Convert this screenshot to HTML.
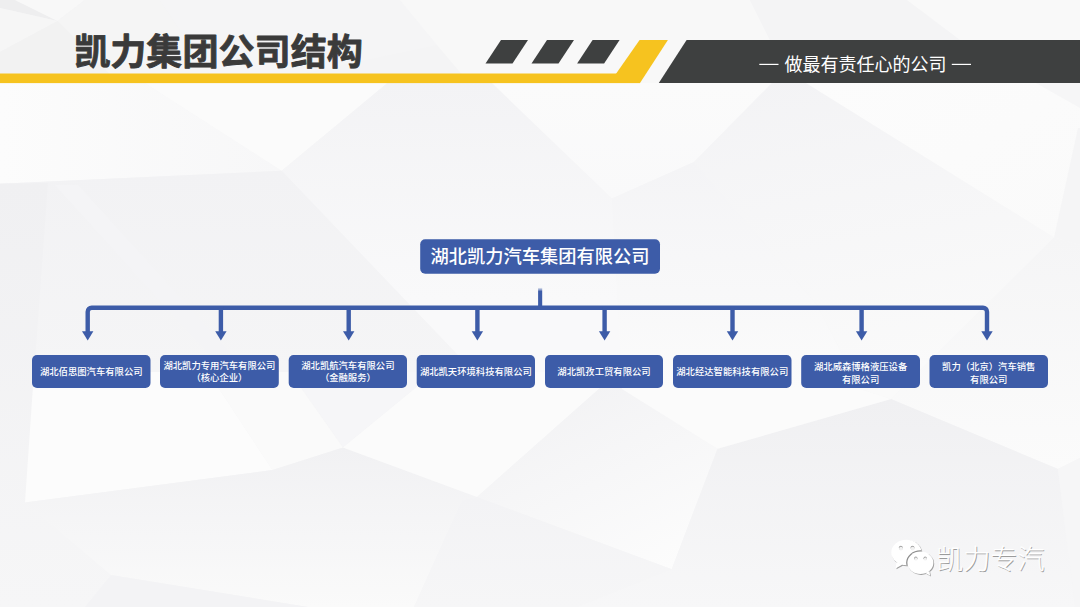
<!DOCTYPE html>
<html lang="zh"><head><meta charset="utf-8"><title>凯力集团公司结构</title>
<style>
html,body{margin:0;padding:0;background:#f3f3f4;}
body{width:1080px;height:607px;overflow:hidden;position:relative;font-family:"Liberation Sans",sans-serif;}
svg{position:absolute;left:0;top:0;display:block;}
svg text{font-family:"Liberation Sans","Noto Sans CJK SC",sans-serif;}
.t{position:absolute;color:transparent;white-space:nowrap;overflow:hidden;margin:0;}
</style></head><body>
<svg width="1080" height="607" viewBox="0 0 1080 607">
<rect width="1080" height="607" fill="#f5f5f6"/>
<polygon points="0,0 1080,0 1080,84 0,84" fill="#f4f4f5"/>
<polygon points="0,0 15,0 57.5,21 0,8" fill="#eeeeef"/>
<polygon points="15,0 85,0 57.5,21" fill="#f8f8f8"/>
<polygon points="0,8 57.5,21 0,52" fill="#f6f6f6"/>
<polygon points="0,52 57.5,21 110,74 0,74" fill="#f2f2f2"/>
<polygon points="57.5,21 85,0 160,0 210,74 110,74" fill="#f5f5f5"/>
<polygon points="160,0 400,0 437,45 300,74 210,74" fill="#f5f5f6"/>
<polygon points="400,0 750,0 770,40 660,84 470,84 437,45" fill="#f8f8f8"/>
<polygon points="750,0 907,0 960,40 770,40" fill="#f4f4f5"/>
<polygon points="907,0 1080,0 1080,40 960,40" fill="#f9f9f9"/>
<linearGradient id="b1" x1="0" y1="0" x2="1" y2="0"><stop offset="0" stop-color="#fcfcfc"/><stop offset="1" stop-color="#f7f7f8"/></linearGradient>
<polygon points="0,83 144.6,83 281.7,170.8 0,183.8" fill="url(#b1)"/>
<polygon points="144.6,83 387.4,83 281.7,170.8" fill="#fbfbfb"/>
<linearGradient id="b2" x1="0" y1="0" x2="0" y2="0.75"><stop offset="0" stop-color="#f3f3f5"/><stop offset="1" stop-color="#f9f9fa"/></linearGradient>
<polygon points="387.4,83 492,83 612,198.5 622,372 474,372 281.7,170.8" fill="url(#b2)"/>
<linearGradient id="b3" x1="0" y1="0" x2="0" y2="1"><stop offset="0" stop-color="#fbfbfb"/><stop offset="1" stop-color="#f9f9fa"/></linearGradient>
<polygon points="492,83 772,83 694,162 612,198.5" fill="url(#b3)"/>
<linearGradient id="b4" x1="0" y1="0" x2="0.2" y2="1"><stop offset="0" stop-color="#f3f3f5"/><stop offset="1" stop-color="#fafafa"/></linearGradient>
<polygon points="772,83 806,83 1054,237.5 891,399 860,389 817,305 694,162" fill="url(#b4)"/>
<linearGradient id="b5" x1="0" y1="0" x2="1" y2="1"><stop offset="0" stop-color="#fcfcfc"/><stop offset="1" stop-color="#fafafa"/></linearGradient>
<polygon points="806,83 1080,83 1080,245 1054,237.5" fill="url(#b5)"/>
<polygon points="1036,83 1080,83 1080,108" fill="#f6f6f7"/>
<polygon points="1078,128 1080,128 1080,245 1054,237.5" fill="#f5f5f6"/>
<linearGradient id="b6" x1="0" y1="0" x2="0" y2="1"><stop offset="0" stop-color="#f4f4f6"/><stop offset="1" stop-color="#fbfbfb"/></linearGradient>
<polygon points="612,198.5 694,162 817,305 860,389 622,389" fill="url(#b6)"/>
<linearGradient id="b7" x1="0" y1="0" x2="0" y2="1"><stop offset="0" stop-color="#f2f2f4"/><stop offset="1" stop-color="#f5f5f6"/></linearGradient>
<polygon points="0,183.8 281.7,170.8 474,372 33,372" fill="url(#b7)"/>
<linearGradient id="b8" x1="0" y1="0" x2="0" y2="1"><stop offset="0" stop-color="#f0f0f2"/><stop offset="1" stop-color="#f6f6f7"/></linearGradient>
<polygon points="0,183.8 48,183 33,389 25,502.5 111,575 85,607 0,607" fill="url(#b8)"/>
<polygon points="55,185 78,185 263,389 240,389" fill="#f4f4f6"/>
<linearGradient id="b9" x1="0" y1="0" x2="0" y2="1"><stop offset="0" stop-color="#f5f5f6"/><stop offset="1" stop-color="#fbfbfb"/></linearGradient>
<polygon points="1054,237.5 1080,245 1080,458 1058,469 891,399" fill="url(#b9)"/>
<polygon points="34,372 208,372 272.5,470 25,502.5" fill="#fcfcfc"/>
<polygon points="208,372 290,372 343,447.5 272.5,470" fill="#fafafa"/>
<polygon points="290,372 435,372 343,447.5" fill="#f6f6f8"/>
<linearGradient id="b10" x1="0" y1="0" x2="0" y2="1"><stop offset="0" stop-color="#f1f1f3"/><stop offset="1" stop-color="#fafafa"/></linearGradient>
<polygon points="25,502.5 272.5,470 343,447.5 477,497 462,500 414,607 308,607 111,575" fill="url(#b10)"/>
<polygon points="111,575 308,607 85,607" fill="#f3f3f5"/>
<polygon points="435,372 618,372 477,497 343,447.5" fill="#fbfbfb"/>
<linearGradient id="b11" x1="0.2" y1="0" x2="0.8" y2="1"><stop offset="0" stop-color="#f1f1f3"/><stop offset="1" stop-color="#fcfcfc"/></linearGradient>
<polygon points="618,372 622,372 622,389 717.5,448.7 671.7,569.2 477,497" fill="url(#b11)"/>
<linearGradient id="b12" x1="0" y1="0" x2="0" y2="1"><stop offset="0" stop-color="#f3f3f5"/><stop offset="1" stop-color="#f6f6f7"/></linearGradient>
<polygon points="477,497 671.7,569.2 577,607 414,607 462,500" fill="url(#b12)"/>
<linearGradient id="b13" x1="0" y1="0" x2="0" y2="1"><stop offset="0" stop-color="#f0f0f2"/><stop offset="1" stop-color="#f7f7f8"/></linearGradient>
<polygon points="717.5,448.7 891,399 1058,469 1075,607 577,607 671.7,569.2" fill="url(#b13)"/>
<polygon points="622,389 860,389 891,399 717.5,448.7" fill="#fbfbfb"/>
<polygon points="1058,469 1080,458 1080,607 1075,607" fill="#f6f6f7"/>
<rect x="0" y="73.5" width="640" height="9.6" fill="#f6c31f"/>
<polygon points="616.2,73.5 639.6,40 667.9,40 640,83.1 610,83.1" fill="#f6c31f"/>
<polygon points="501,40 528,40 512.5,63.5 485.5,63.5" fill="#3e4040"/>
<polygon points="547,40 574,40 558.5,63.5 531.5,63.5" fill="#3e4040"/>
<polygon points="592.6,40 619.6,40 604.1,63.5 577.1,63.5" fill="#3e4040"/>
<polygon points="686.6,40 1080,40 1080,83.1 658.8,83.1" fill="#3e4040"/>
<text x="74.2" y="65.4" font-size="36.1" font-weight="bold" fill="#3a3a3a" stroke="#3a3a3a" stroke-width="0.85" stroke-linejoin="round">凯力集团公司结构</text>
<text x="784.4" y="70.6" font-size="18" fill="#ffffff">做最有责任心的公司</text>
<rect x="759.3" y="63.8" width="19.2" height="1.2" fill="#fff"/><rect x="951.8" y="63.8" width="19.2" height="1.2" fill="#fff"/>
<defs><linearGradient id="fade" x1="0" y1="0" x2="0" y2="1"><stop offset="0" stop-color="#3d5ca8" stop-opacity="0"/><stop offset="0.2" stop-color="#3d5ca8"/></linearGradient></defs>
<rect x="538.1" y="287.4" width="4.1" height="20.6" fill="url(#fade)"/>
<path d="M87.7 333 V311.7 a4 4 0 0 1 4 -4 H983.0 a4 4 0 0 1 4 4 V333" fill="none" stroke="#3d5ca8" stroke-width="4.4"/>
<rect x="218.70" y="307" width="4.4" height="26" fill="#3d5ca8"/>
<rect x="346.50" y="307" width="4.4" height="26" fill="#3d5ca8"/>
<rect x="475.20" y="307" width="4.4" height="26" fill="#3d5ca8"/>
<rect x="602.40" y="307" width="4.4" height="26" fill="#3d5ca8"/>
<rect x="730.30" y="307" width="4.4" height="26" fill="#3d5ca8"/>
<rect x="859.40" y="307" width="4.4" height="26" fill="#3d5ca8"/>
<polygon points="82.00,331.2 93.40,331.2 87.70,340.6" fill="#3d5ca8"/>
<polygon points="215.20,331.2 226.60,331.2 220.90,340.6" fill="#3d5ca8"/>
<polygon points="343.00,331.2 354.40,331.2 348.70,340.6" fill="#3d5ca8"/>
<polygon points="471.70,331.2 483.10,331.2 477.40,340.6" fill="#3d5ca8"/>
<polygon points="598.90,331.2 610.30,331.2 604.60,340.6" fill="#3d5ca8"/>
<polygon points="726.80,331.2 738.20,331.2 732.50,340.6" fill="#3d5ca8"/>
<polygon points="855.90,331.2 867.30,331.2 861.60,340.6" fill="#3d5ca8"/>
<polygon points="981.30,331.2 992.70,331.2 987.00,340.6" fill="#3d5ca8"/>
<rect x="420.2" y="239.3" width="239.8" height="34.4" rx="5" fill="#3d5ca8"/>
<text x="430.58" y="263.2" font-size="18.25" font-weight="500" fill="#ffffff">湖北凯力汽车集团有限公司</text>
<rect x="32.0" y="355" width="118.5" height="33" rx="5" fill="#3d5ca8"/>
<text x="39.95" y="375" font-size="9.33" font-weight="500" fill="#ffffff">湖北佰思图汽车有限公司</text>
<rect x="160.0" y="355" width="118.8" height="33" rx="5" fill="#3d5ca8"/>
<text x="163.44" y="369.3" font-size="9.33" font-weight="500" fill="#ffffff">湖北凯力专用汽车有限公司</text>
<text x="191.42" y="381.4" font-size="9.33" font-weight="500" fill="#ffffff">（核心企业）</text>
<rect x="288.7" y="355" width="118.3" height="33" rx="5" fill="#3d5ca8"/>
<text x="301.22" y="369.3" font-size="9.33" font-weight="500" fill="#ffffff">湖北凯航汽车有限公司</text>
<text x="319.88" y="381.4" font-size="9.33" font-weight="500" fill="#ffffff">（金融服务）</text>
<rect x="416.7" y="355" width="118.3" height="33" rx="5" fill="#3d5ca8"/>
<text x="419.88" y="375" font-size="9.33" font-weight="500" fill="#ffffff">湖北凯天环境科技有限公司</text>
<rect x="545.0" y="355" width="118.0" height="33" rx="5" fill="#3d5ca8"/>
<text x="557.37" y="375" font-size="9.33" font-weight="500" fill="#ffffff">湖北凯孜工贸有限公司</text>
<rect x="673.0" y="355" width="118.5" height="33" rx="5" fill="#3d5ca8"/>
<text x="676.28" y="375" font-size="9.33" font-weight="500" fill="#ffffff">湖北经达智能科技有限公司</text>
<rect x="801.2" y="355" width="118.8" height="33" rx="5" fill="#3d5ca8"/>
<text x="813.97" y="370.2" font-size="9.33" font-weight="500" fill="#ffffff">湖北威森博格液压设备</text>
<text x="841.96" y="382.5" font-size="9.33" font-weight="500" fill="#ffffff">有限公司</text>
<rect x="929.5" y="355" width="118.5" height="33" rx="5" fill="#3d5ca8"/>
<text x="942.12" y="370.2" font-size="9.33" font-weight="500" fill="#ffffff">凯力（北京）汽车销售</text>
<text x="970.11" y="382.5" font-size="9.33" font-weight="500" fill="#ffffff">有限公司</text>
<text x="937.05" y="569.7" font-size="27.1" font-weight="300" fill="#9c9c9c">凯力专汽</text>
<text x="936.25" y="568.9" font-size="27.1" font-weight="300" fill="#ffffff" stroke="#fff" stroke-width="0.22">凯力专汽</text>
<defs><clipPath id="cb"><ellipse cx="906.4" cy="552.5" rx="15.1" ry="12.8"/><polygon points="896.6,562 895.6,568.4 902.5,564.6"/></clipPath></defs>
<g transform="translate(0.8 0.9)" fill="#9d9d9d"><ellipse cx="906.4" cy="552.5" rx="15.1" ry="12.8"/><polygon points="896.6,562 895.6,568.4 902.5,564.6"/><ellipse cx="920.4" cy="562.8" rx="13" ry="11.2"/><polygon points="925.5,573 930.2,575.7 929.3,571"/></g>
<g fill="#fff"><ellipse cx="906.4" cy="552.5" rx="15.1" ry="12.8"/><polygon points="896.6,562 895.6,568.4 902.5,564.6"/></g>
<circle cx="900.8" cy="547.8" r="2.0" fill="#a3a3a3"/><circle cx="900.9499999999999" cy="548.55" r="1.85" fill="#f1f1f1"/><circle cx="912.5" cy="547.8" r="2.0" fill="#a3a3a3"/><circle cx="912.65" cy="548.55" r="1.85" fill="#f1f1f1"/>
<g clip-path="url(#cb)"><g fill="#8f8f8f" stroke="#8f8f8f" stroke-width="2.6"><ellipse cx="920.4" cy="562.8" rx="13" ry="11.2"/><polygon points="925.5,573 930.2,575.7 929.3,571"/></g></g>
<g fill="#fff"><ellipse cx="920.4" cy="562.8" rx="13" ry="11.2"/><polygon points="925.5,573 930.2,575.7 929.3,571"/></g>
<circle cx="915.8" cy="558.3" r="1.7" fill="#a3a3a3"/><circle cx="915.9499999999999" cy="559.05" r="1.55" fill="#f1f1f1"/><circle cx="925.2" cy="558.3" r="1.7" fill="#a3a3a3"/><circle cx="925.35" cy="559.05" r="1.55" fill="#f1f1f1"/>
</svg>
<div class="t" style="left:75.0px;top:30.0px;width:290.0px;height:42.0px;font-size:36px;line-height:42.0px;text-align:left">凯力集团公司结构</div>
<div class="t" style="left:755.0px;top:50.0px;width:220.0px;height:28.0px;font-size:18px;line-height:28.0px;text-align:center">— 做最有责任心的公司 —</div>
<div class="t" style="left:420.0px;top:239.0px;width:240.0px;height:34.0px;font-size:18px;line-height:34.0px;text-align:center">湖北凯力汽车集团有限公司</div>
<div class="t" style="left:32.0px;top:365.0px;width:118.5px;height:12.0px;font-size:9px;line-height:12.0px;text-align:center">湖北佰思图汽车有限公司</div>
<div class="t" style="left:160.0px;top:359.0px;width:118.8px;height:24.0px;font-size:9px;line-height:12.0px;text-align:center">湖北凯力专用汽车有限公司<br>（核心企业）</div>
<div class="t" style="left:288.7px;top:359.0px;width:118.3px;height:24.0px;font-size:9px;line-height:12.0px;text-align:center">湖北凯航汽车有限公司<br>（金融服务）</div>
<div class="t" style="left:416.7px;top:365.0px;width:118.3px;height:12.0px;font-size:9px;line-height:12.0px;text-align:center">湖北凯天环境科技有限公司</div>
<div class="t" style="left:545.0px;top:365.0px;width:118.0px;height:12.0px;font-size:9px;line-height:12.0px;text-align:center">湖北凯孜工贸有限公司</div>
<div class="t" style="left:673.0px;top:365.0px;width:118.5px;height:12.0px;font-size:9px;line-height:12.0px;text-align:center">湖北经达智能科技有限公司</div>
<div class="t" style="left:801.2px;top:359.0px;width:118.8px;height:24.0px;font-size:9px;line-height:12.0px;text-align:center">湖北威森博格液压设备<br>有限公司</div>
<div class="t" style="left:929.5px;top:359.0px;width:118.5px;height:24.0px;font-size:9px;line-height:12.0px;text-align:center">凯力（北京）汽车销售<br>有限公司</div>
<div class="t" style="left:938.0px;top:543.0px;width:108.0px;height:32.0px;font-size:26px;line-height:32.0px;text-align:left">凯力专汽</div>
</body></html>
